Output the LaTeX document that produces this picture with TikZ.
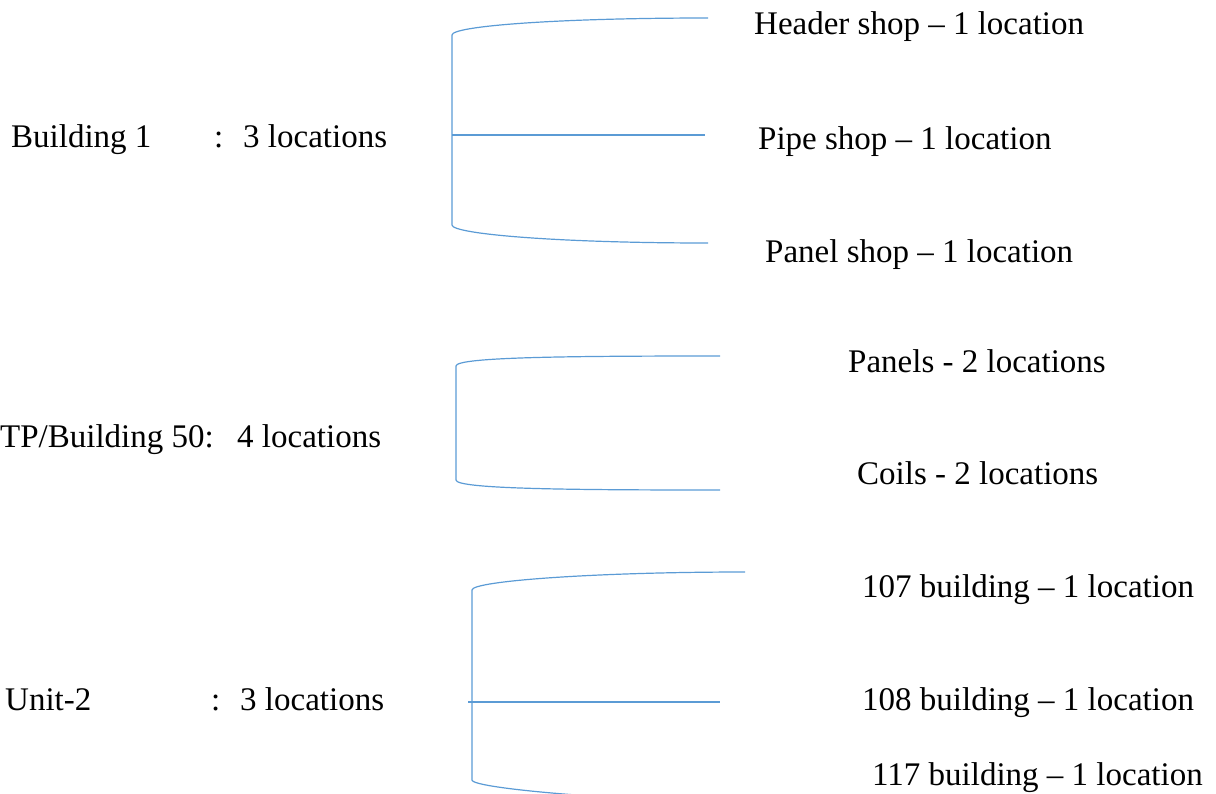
\documentclass[tikz,border=0pt]{standalone}
\usepackage{fontspec}
\setmainfont{Liberation Serif}
\definecolor{bracecol}{HTML}{5B9BD5}

\begin{document}
\begin{tikzpicture}[x=1pt,y=-1pt,
        lbl/.style={anchor=base west,inner sep=0pt,font=\fontsize{33}{40}\selectfont},
        brace/.style={draw=bracecol,line width=1.2pt}]
        \useasboundingbox (0,0) rectangle (1216,793);
        \clip (0,0) rectangle (1216,793);
        % left side
        \node[lbl] (bld1) at (11,147) {Building 1};
        \node[lbl] (bld1c) at (214,147) {:};
        \node[lbl] (bld1n) at (243,147) {3 locations};
        \node[lbl] (tp50) at (0,447) {TP/Building 50:};
        \node[lbl] (tp50n) at (237,447) {4 locations};
        \node[lbl] (unit2) at (5,710) {Unit-2};
        \node[lbl] (unit2c) at (211,710) {:};
        \node[lbl] (unit2n) at (240,710) {3 locations};
        % right side
        \node[lbl] (header) at (754,34) {Header shop -- 1 location};
        \node[lbl] (pipe) at (758,149) {Pipe shop -- 1 location};
        \node[lbl] (panel) at (765,262) {Panel shop -- 1 location};
        \node[lbl] (panels) at (848,372) {Panels - 2 locations};
        \node[lbl] (coils) at (857,484) {Coils - 2 locations};
        \node[lbl] (b107) at (862,597) {107 building -- 1 location};
        \node[lbl] (b108) at (862,710) {108 building -- 1 location};
        \node[lbl] (b117) at (872,785) {117 building -- 1 location};
        % brackets
        \coordinate (s1t) at (452,35);  \coordinate (s1b) at (452,225);
        \coordinate (e1t) at (708,18);  \coordinate (e1b) at (708,243);
        \coordinate (m1) at (452,135);  \coordinate (e1m) at (705,135);
        \coordinate (s2t) at (456,366); \coordinate (s2b) at (456,480);
        \coordinate (e2t) at (720,356); \coordinate (e2b) at (720,490);
        \coordinate (s3t) at (472,590); \coordinate (s3b) at (472,780);
        \coordinate (e3t) at (745,572); \coordinate (e3b) at (790,803);
        \coordinate (m3) at (468,702);  \coordinate (e3m) at (720,702);
        \foreach \n in {1,2,3}{
            \draw[brace] (e\n t) .. controls +(-150,0) and +(0,-9) .. (s\n t)
                -- (s\n b) .. controls +(0,9) and +(-150,0) .. (e\n b);
        }
        \draw[brace] (m1) -- (e1m);
        \draw[brace] (m3) -- (e3m);
\end{tikzpicture}
\end{document}
